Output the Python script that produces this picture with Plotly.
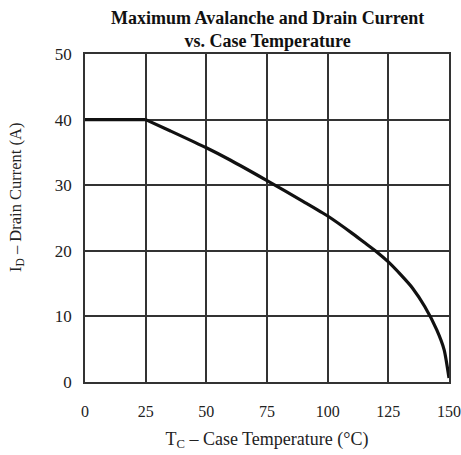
import plotly.graph_objects as go

temp_flat = [0, 25]
drain_flat = [40, 40]
temp_c = [25, 35, 50, 60, 75, 90, 100, 110, 115, 120, 125, 130, 135, 140, 145, 148, 150]
drain_a = [40, 38.3, 35.7, 33.8, 30.7, 27.5, 25.3, 22.7, 21.3, 19.9, 18.3, 16.4, 14.3, 11.5, 7.9, 4.9, 0.6]
x_ticks = [0, 25, 50, 75, 100, 125, 150]
y_ticks = [0, 10, 20, 30, 40, 50]

fig = go.Figure()
fig.add_trace(go.Scatter(x=temp_flat, y=drain_flat, mode="lines",
                         line=dict(color="#111111", width=3.2),
                         showlegend=False, cliponaxis=False))
fig.add_trace(go.Scatter(x=temp_c, y=drain_a, mode="lines",
                         line=dict(color="#111111", width=3.2, shape="spline", smoothing=0.6),
                         showlegend=False, cliponaxis=False))

font = "Liberation Serif"
fig.update_layout(
    width=461, height=455,
    margin=dict(l=85, r=12, t=54, b=73, autoexpand=False),
    paper_bgcolor="white", plot_bgcolor="white",
    font=dict(family=font, size=16, color="#222222"),
    annotations=[
        dict(text="<b>Maximum Avalanche and Drain Current<br>vs. Case Temperature</b>",
             xref="paper", yref="paper", x=0.5, y=1, xanchor="center", yanchor="bottom",
             yshift=1, showarrow=False, align="center",
             font=dict(family=font, size=18, color="#111111")),
        dict(text="I<sub>D</sub> – Drain Current (A)", xref="paper", yref="paper",
             x=0, y=0.561, xanchor="center", yanchor="middle", xshift=-69,
             textangle=-90, showarrow=False, font=dict(family=font, size=16.5, color="#222222")),
    ],
)
fig.update_xaxes(range=[0, 150], tickvals=x_ticks, showgrid=True, gridcolor="#333333", gridwidth=1.5,
                 showline=True, linecolor="#333333", linewidth=1.5, mirror=True, zeroline=False,
                 ticks="", ticklabelstandoff=14, automargin=False, ticklabeloverflow="allow",
                 title=dict(text="T<sub>C</sub> – Case Temperature (°C)", standoff=13,
                            font=dict(family=font, size=18)))
fig.update_yaxes(range=[0, 50], tickvals=y_ticks, showgrid=True, gridcolor="#333333", gridwidth=1.5,
                 showline=True, linecolor="#333333", linewidth=1.5, mirror=True, zeroline=False,
                 ticks="", ticklabelstandoff=8, automargin=False, ticklabeloverflow="allow",
                 tickfont=dict(size=17))
fig.write_html("out.html", post_script="document.body.style.margin='0';",
               config={"displayModeBar": False})
